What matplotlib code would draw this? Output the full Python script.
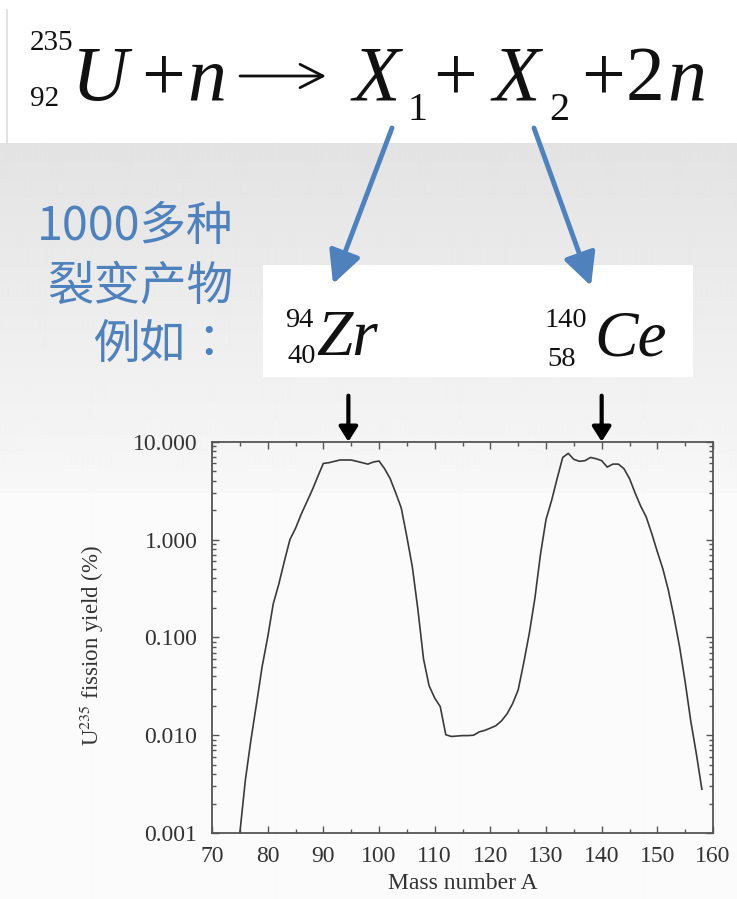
import numpy as np
import matplotlib
matplotlib.use("Agg")
import matplotlib.pyplot as plt
from matplotlib.patches import Rectangle
from matplotlib.ticker import FixedLocator, FuncFormatter, LogLocator, NullFormatter

plt.rcParams["mathtext.fontset"] = "stix"

W, H = 737, 899

# U-235 thermal fission product yield (%) by mass number A
mass_number = list(range(75, 159))
yield_pct = [
    0.001, 0.0035, 0.009, 0.021, 0.05,            # 75-79
    0.10, 0.22, 0.35, 0.60, 1.0,                  # 80-84
    1.3, 1.8, 2.4, 3.2, 4.4,                      # 85-89
    6.0, 6.1, 6.3, 6.5, 6.5,                      # 90-94
    6.5, 6.3, 6.1, 5.9, 6.2,                      # 95-99
    6.35, 5.3, 4.2, 3.0, 2.1,                     # 100-104
    1.07, 0.52, 0.19, 0.06, 0.032,                # 105-109
    0.024, 0.0196, 0.0101, 0.0097, 0.0098,        # 110-114
    0.0099, 0.0099, 0.0100, 0.0108, 0.0112,       # 115-119
    0.0118, 0.0125, 0.014, 0.0165, 0.021,         # 120-124
    0.029, 0.055, 0.11, 0.25, 0.70,               # 125-129
    1.6, 2.5, 4.2, 6.9, 7.6,                      # 130-134
    6.6, 6.3, 6.4, 6.9, 6.7,                      # 135-139
    6.4, 5.5, 5.9, 5.9, 5.3,                      # 140-144
    4.2, 3.0, 2.2, 1.7, 1.15,                     # 145-149
    0.75, 0.50, 0.30, 0.16, 0.08,                 # 150-154
    0.035, 0.014, 0.0065, 0.0028,                 # 155-158
]

x_ticks = [70, 80, 90, 100, 110, 120, 130, 140, 150, 160]
y_ticks = [0.001, 0.01, 0.1, 1.0, 10.0]
marked_products = [94.5, 140]

blue = "#4f81bd"
ink = "#333333"
serif = "Liberation Serif"

fig = plt.figure(figsize=(W / 100, H / 100), dpi=100)

# ---- backdrop canvas, in pixel coordinates ----
bg = fig.add_axes([0, 0, 1, 1])
bg.set_xlim(0, W)
bg.set_ylim(H, 0)
bg.axis("off")

rows = np.arange(H, dtype=float)
shade = np.where(rows < 143, 1.0,
                 np.where(rows < 493, 0.89 + (rows - 143) / (493 - 143) * 0.08, 0.982))
bg.imshow(np.repeat(shade[:, None], 4, axis=1), extent=[0, W, H, 0], cmap="gray",
          vmin=0, vmax=1, aspect="auto", interpolation="bilinear", zorder=0)
bg.plot([7.5, 7.5], [10, 143], color="#dddddd", lw=1.2, zorder=1)

# white label box for the two example products
bg.add_patch(Rectangle((263, 265), 430, 112, facecolor="white", edgecolor="none", zorder=1))


def t(x, y, s, size, italic=False, ha="center", family=serif, color="#111111"):
    bg.text(x, y, s, fontsize=size, ha=ha, va="baseline", color=color,
            family=family, style="italic" if italic else "normal", zorder=3)


# fission equation
t(30, 50, "235", 21, ha="left")
t(30, 106, "92", 21, ha="left")
t(100, 100, "U", 56, italic=True)
t(163, 100, "+", 56)
t(207, 100, "n", 56, italic=True)
bg.annotate("", xy=(326, 76), xytext=(240, 76),
            arrowprops=dict(arrowstyle="->,head_length=0.55,head_width=0.28",
                            color="#111111", lw=2.0, shrinkA=0, shrinkB=0,
                            mutation_scale=30), zorder=3)
t(376, 100, "X", 56, italic=True)
t(418, 120, "1", 29)
t(455, 100, "+", 56)
t(516, 100, "X", 56, italic=True)
t(559, 120, "2", 29)
t(603, 100, "+", 56)
t(645, 100, "2", 56)
t(687, 100, "n", 56, italic=True)

# example nuclides
t(285, 327, "94", 20.5, ha="left")
t(288, 363, "40", 20.5, ha="left")
t(316, 355, "Zr", 47, italic=True, ha="left")
t(545, 327, "140", 20.5, ha="left")
t(547, 366, "58", 20.5, ha="left")
t(594, 355, "Ce", 47, italic=True, ha="left")

# blue pointers from X1 / X2 to the example nuclides
for (x0, y0), (x1, y1) in [((392, 128), (333, 284)), ((534, 128), (591, 286))]:
    bg.annotate("", xy=(x1, y1), xytext=(x0, y0),
                arrowprops=dict(arrowstyle="-|>,head_length=0.9,head_width=0.45",
                                color=blue, lw=3.5, shrinkA=0, shrinkB=0,
                                mutation_scale=22), zorder=3)

for y, line, fam in [(240, "1000多种", "Noto Sans CJK SC"),
                     (300, "裂变产物", "Noto Sans CJK SC"),
                     (359, "例如：", "Noto Sans CJK TC")]:
    bg.text(233, y, line, fontsize=33.5, ha="right", va="baseline", color=blue,
            family=[fam, "DejaVu Sans"], zorder=3)

# ---- fission yield chart ----
ax = fig.add_axes([212 / W, 1 - 833 / H, 501 / W, (833 - 441.7) / H])
ax.patch.set_alpha(0)
ax.semilogy(mass_number, yield_pct, color="#3a3a3a", lw=1.2)
ax.set_xlim(70, 160)
ax.set_ylim(0.001, 10)

ax.xaxis.set_major_locator(FixedLocator(x_ticks))
ax.xaxis.set_minor_locator(FixedLocator([v + 5 for v in x_ticks[:-1]]))
ax.yaxis.set_major_locator(FixedLocator(y_ticks))
ax.yaxis.set_minor_locator(LogLocator(base=10, subs=np.arange(2, 10)))
ax.yaxis.set_minor_formatter(NullFormatter())
ax.yaxis.set_major_formatter(FuncFormatter(lambda v, p: f"{v:.3f}"))

ax.tick_params(which="both", direction="in", top=True, right=True, color="#555555",
               width=1.0)
ax.tick_params(which="major", length=5, labelsize=17, labelcolor=ink)
ax.tick_params(axis="y", which="major", pad=10.5)
ax.tick_params(axis="x", which="major", pad=9)
ax.tick_params(which="minor", length=3)
for lab in ax.get_xticklabels() + ax.get_yticklabels():
    lab.set_family(serif)
for s in ax.spines.values():
    s.set_color("#555555")
    s.set_linewidth(1.3)

ax.set_xlabel("Mass number A", family=serif, fontsize=17, color=ink, labelpad=5)
ax.set_ylabel(r"U$^{235}$ fission yield (%)", family=serif, fontsize=16.5, color=ink)
ax.yaxis.set_label_coords(-0.212, 0.48)

# black markers above the chart for the two example products
for a in marked_products:
    ax.annotate("", xy=(a, 10), xycoords=("data", "data"),
                xytext=(0, 46), textcoords="offset pixels",
                arrowprops=dict(arrowstyle="-|>,head_length=0.55,head_width=0.35",
                                color="black", lw=3, shrinkA=0, shrinkB=0,
                                mutation_scale=16), annotation_clip=False)

fig.savefig("out.png", dpi=100)
